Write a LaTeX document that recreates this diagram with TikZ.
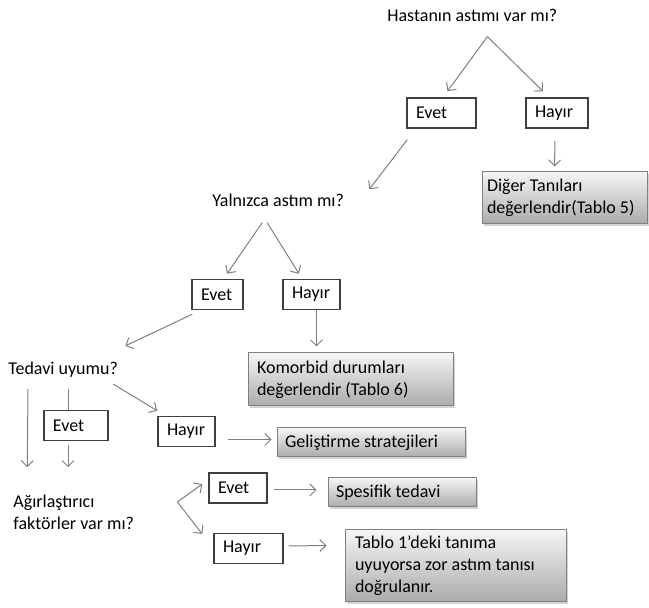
\documentclass[tikz,border=0pt]{standalone}
\usepackage{fontspec}
\setmainfont{Carlito}
\usetikzlibrary{arrows.meta,calc,shadows}

\tikzset{
  soru/.style={inner sep=0pt, anchor=west, align=flush left},
  secenek/.style={draw=black!75, line width=0.75pt, fill=white, inner xsep=4.5pt, inner ysep=0pt,
    text width=#1, minimum height=15pt, align=flush left},
  sonuc/.style={draw=black!50, line width=0.5pt, top color=black!4, bottom color=black!33,
    drop shadow={shadow xshift=1.2pt, shadow yshift=-1.2pt, opacity=0.35},
    inner xsep=4pt, inner ysep=0pt, text width=#1, align=flush left},
  ok/.style={draw=black!50, line width=0.5pt, ->},
  cizgi/.style={draw=black!50, line width=0.5pt}
}

\begin{document}
\begin{tikzpicture}[x=0.5pt, y=-0.5pt, >={Straight Barb[length=3pt,width=6pt]}, font=\fontsize{9}{11}\selectfont]
\useasboundingbox (0,0) rectangle (649,608);
% sorular
\node[soru] (q1) at (387,15) {Hastanın astımı var mı?};
\node[soru] (q2) at (212,200) {Yalnızca astım mı?};
\node[soru] (q3) at (8,370) {Tedavi uyumu?};
\node[soru] (q4) at (13,512) {Ağırlaştırıcı\\faktörler var mı?};
% evet / hayir kutulari
\node[secenek=25.5pt] (e1) at (441.5,113) {Evet};
\node[secenek=22pt] (h1) at (557,113) {Hayır};
\node[secenek=16.5pt] (e2) at (217.5,294.5) {Evet};
\node[secenek=19.5pt] (h2) at (311.5,294.5) {Hayır};
\node[secenek=23pt] (e3) at (76,425.5) {Evet};
\node[secenek=19.5pt] (h3) at (186.5,431.5) {Hayır};
\node[secenek=20pt] (e4) at (238,488) {Evet};
\node[secenek=25.5pt] (h4) at (248.5,548.5) {Hayır};
% sonuclar
\node[sonuc=77.5pt, inner xsep=2.5pt, minimum height=26pt] (d1) at (564.5,198) {Diğer Tanıları\\değerlendir(Tablo 5)};
\node[sonuc=93.5pt, inner xsep=4.5pt, minimum height=26.5pt] (k1) at (350.5,379.5) {Komorbid durumları\\değerlendir (Tablo 6)};
\node[sonuc=86pt, minimum height=14.5pt] (g1) at (371,442.5) {Geliştirme stratejileri};
\node[sonuc=66pt, minimum height=14.5pt] (s1) at (402,492.5) {Spesifik tedavi};
\node[sonuc=100.5pt, inner xsep=5pt, minimum height=36pt] (t1) at (455.5,566) {Tablo 1’deki tanıma\\uyuyorsa zor astım tanısı\\doğrulanır.};
% oklar
\draw[ok] ($(q1.south)+(15,15)$) -- ($(e1.north)+(6,-6)$);
\draw[ok] ($(q1.south)+(15,15)$) -- ($(h1.north)+(-14,-6)$);
\draw[ok] ($(e1.south west)+(1,11)$) -- ($(q2.north east)+(25,-4)$);
\draw[ok] ($(h1.south)+(-2,12)$) -- ($(d1.north west)+(73,-5)$);
\draw[ok] ($(q2.south)+(-16,16)$) -- ($(e2.north)+(9.5,-5)$);
\draw[ok] ($(q2.south)+(-11,16)$) -- ($(h2.north)+(-12.5,-5)$);
\draw[ok] ($(e2.south west)+(1,4)$) -- ($(q3.north east)+(7,-16)$);
\draw[ok] ($(h2.south)+(5,0)$) -- ($(k1.north west)+(69,-6)$);
\draw[ok] ($(q3.south west)+(20,11)$) -- ($(e3.south west)+(-16,26)$);
\draw[cizgi] ($(q3.south west)+(60,11)$) -- ($(e3.north)+(-8,0)$);
\draw[ok] ($(e3.south)+(-8,4)$) -- ($(e3.south)+(-8,26)$);
\draw[ok] ($(q3.south east)+(-5,6)$) -- ($(h3.north west)+(0,-5)$);
\draw[ok] ($(h3.east)+(12,8)$) -- ($(g1.west)+(-5,-3)$);
\coordinate (q4c) at ($(q4.east)+(43,-10)$);
\draw[ok] (q4c) -- ($(e4.west)+(-6,-4)$);
\draw[ok] (q4c) -- ($(h4.west)+(-11,-14.5)$);
\draw[ok] ($(e4.east)+(6,2)$) -- ($(s1.west)+(-11,-2.5)$);
\draw[ok] ($(h4.east)+(5,-2.5)$) -- ($(t1.north west)+(-18,16)$);
\end{tikzpicture}
\end{document}
